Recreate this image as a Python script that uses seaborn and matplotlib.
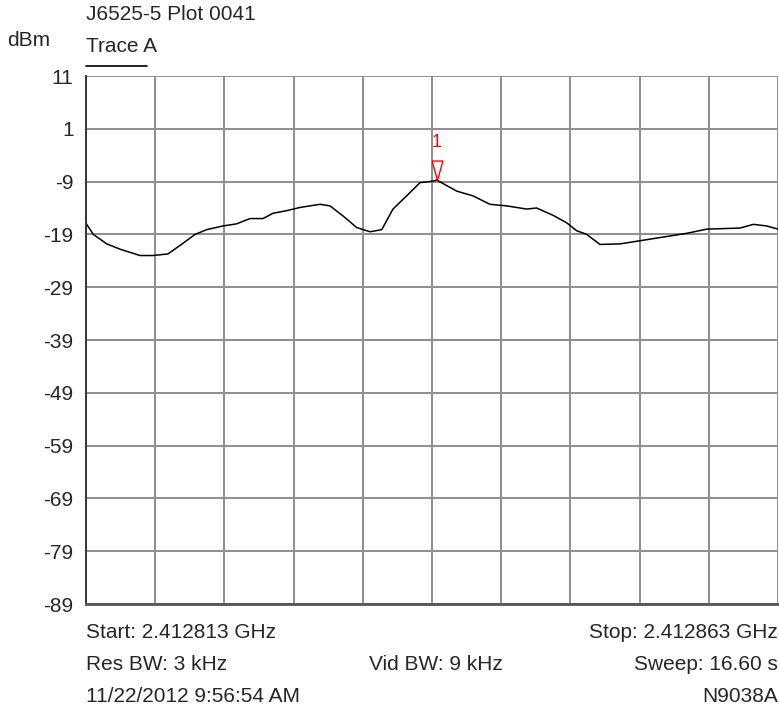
import seaborn as sns
import matplotlib.pyplot as plt
import numpy as np
import pandas as pd

start_ghz = 2.412813
stop_ghz = 2.412863
offset_khz = [0.0, 0.53, 1.50, 2.46, 3.90, 4.84, 5.92, 6.79, 7.88, 8.72,
              9.90, 10.89, 11.85, 12.79, 13.51, 14.50, 15.46, 16.91, 17.63, 18.57,
              19.56, 20.52, 21.37, 22.18, 23.17, 24.13, 25.09, 25.34, 26.78, 27.96,
              29.19, 30.40, 31.84, 32.56, 33.76, 34.73, 35.45, 36.18, 37.14, 38.58,
              40.03, 41.47, 43.40, 44.85, 47.25, 48.22, 49.18, 50.0]
nivel_dbm = [-16.9, -19.0, -20.8, -21.8, -23.0, -23.0, -22.7, -21.1, -19.0, -18.1,
             -17.4, -17.0, -16.0, -16.0, -15.0, -14.5, -13.9, -13.3, -13.6, -15.5,
             -17.7, -18.5, -18.1, -14.2, -11.7, -9.2, -8.9, -8.7, -10.8, -11.7,
             -13.3, -13.6, -14.2, -14.0, -15.4, -16.8, -18.3, -19.0, -20.9, -20.8,
             -20.2, -19.6, -18.8, -18.0, -17.8, -17.1, -17.4, -18.0]
y_ticks = [11, 1, -9, -19, -29, -39, -49, -59, -69, -79, -89]
marcador = "1"

df = pd.DataFrame({"kHz": offset_khz, "dBm": nivel_dbm})
span_khz = (stop_ghz - start_ghz) * 1e6

sns.set_style("white")
plt.rcParams["font.family"] = ["Liberation Sans", "DejaVu Sans"]
fs = 15

fig = plt.figure(figsize=(7.79, 7.11), dpi=100)
ax = fig.add_axes([86 / 779, 1 - 604 / 711, 692 / 779, 528 / 711])

sns.lineplot(data=df, x="kHz", y="dBm", color="black", linewidth=1.1, ax=ax)

ax.set_xlim(0, span_khz)
ax.set_ylim(y_ticks[-1], y_ticks[0])
ax.set_yticks(y_ticks)
ax.set_yticklabels([str(t) for t in y_ticks], fontsize=fs)
ax.set_xticks(np.linspace(0, span_khz, 11))
ax.set_xticklabels([])
ax.tick_params(length=0, pad=9)
ax.grid(True, color="#8c8c8c", linewidth=1.4)
ax.set_xlabel("")
ax.set_ylabel("")
for lado in ["top", "right"]:
    ax.spines[lado].set_visible(False)
ax.spines["left"].set_color("#333333")
ax.spines["bottom"].set_color("#555555")
ax.spines["left"].set_linewidth(1.4)
ax.spines["bottom"].set_linewidth(2)

# Marcador 1 en el pico
i_pico = int(np.argmax(nivel_dbm))
tri = [(-5.5, 20), (5.5, 20), (0, 0), (-5.5, 20)]
ax.plot(offset_khz[i_pico], nivel_dbm[i_pico], marker=tri, markersize=28,
        markerfacecolor="none", markeredgecolor="red", markeredgewidth=1)
ax.annotate(marcador, xy=(offset_khz[i_pico], nivel_dbm[i_pico]),
            xytext=(0, 27), textcoords="offset points", color="red",
            ha="center", va="center", fontsize=13)

# Textos de cabecera
fig.text(86 / 779, 1 - 15 / 711, "J6525-5 Plot 0041", fontsize=fs, va="center", ha="left")
fig.text(7 / 779, 1 - 41 / 711, "dBm", fontsize=fs, va="center", ha="left")
fig.text(86 / 779, 1 - 47 / 711, "Trace A", fontsize=fs, va="center", ha="left")
fig.add_artist(plt.Line2D([86 / 779, 147 / 779], [1 - 66 / 711, 1 - 66 / 711],
                          color="black", linewidth=1.2))

# Textos de pie
fila = [1 - 633 / 711, 1 - 665 / 711, 1 - 697 / 711]
izq, der, centro = 86 / 779, 778 / 779, 436 / 779
fig.text(izq, fila[0], f"Start: {start_ghz:.6f} GHz", fontsize=fs, va="center", ha="left")
fig.text(der, fila[0], f"Stop: {stop_ghz:.6f} GHz", fontsize=fs, va="center", ha="right")
fig.text(izq, fila[1], "Res BW: 3 kHz", fontsize=fs, va="center", ha="left")
fig.text(centro, fila[1], "Vid BW: 9 kHz", fontsize=fs, va="center", ha="center")
fig.text(der, fila[1], "Sweep: 16.60 s", fontsize=fs, va="center", ha="right")
fig.text(izq, fila[2], "11/22/2012 9:56:54 AM", fontsize=fs, va="center", ha="left")
fig.text(der, fila[2], "N9038A", fontsize=fs, va="center", ha="right")

fig.savefig("out.png", dpi=100)
